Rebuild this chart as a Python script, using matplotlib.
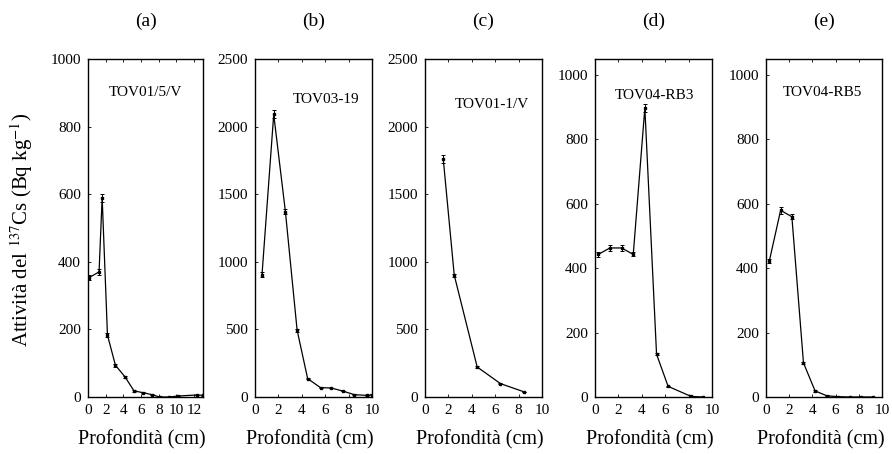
import matplotlib
matplotlib.use('Agg')
import matplotlib.pyplot as plt

plt.rcParams['font.family'] = ['Liberation Serif', 'DejaVu Serif']
plt.rcParams['mathtext.fontset'] = 'stix'

# (a) TOV01/5/V
x_a = [0.1, 1.25, 1.6, 2.2, 3.1, 4.2, 5.2, 6.2, 7.2, 8.1, 9.2, 10.2, 12.3, 13.0]
y_a = [353, 370, 590, 183, 94, 59, 18, 13, 7, 0, 0, 3, 6, 5]
e_a = [8, 8, 12, 6, 4, 3, 2, 2, 1, 1, 1, 1, 1, 1]

# (b) TOV03-19
x_b = [0.6, 1.6, 2.6, 3.6, 4.5, 5.6, 6.5, 7.5, 8.5, 9.6, 10.0]
y_b = [906, 2090, 1370, 494, 136, 69, 67, 44, 17, 12, 17]
e_b = [15, 30, 20, 10, 5, 3, 3, 2, 2, 2, 2]

# (c) TOV01-1/V
x_c = [1.56, 2.5, 4.46, 6.45, 8.5]
y_c = [1760, 901, 222, 99, 37]
e_c = [30, 12, 5, 3, 2]

# (d) TOV04-RB3
x_d = [0.28, 1.28, 2.27, 3.27, 4.26, 5.26, 6.25, 8.2, 9.2]
y_d = [443, 463, 463, 443, 898, 133, 33, 2, 0]
e_d = [8, 8, 8, 6, 12, 4, 2, 1, 1]

# (e) TOV04-RB5
x_e = [0.29, 1.26, 2.23, 3.23, 4.23, 5.23, 6.2, 7.2, 8.2, 9.2]
y_e = [423, 580, 560, 106, 19, 4, 1, 0, 0, 0]
e_e = [6, 10, 8, 4, 2, 1, 1, 1, 1, 1]

panels = [
    ('(a)', 'TOV01/5/V', x_a, y_a, e_a, 13, range(0, 13, 2), 1000, range(0, 1001, 200), (0.50, 0.90)),
    ('(b)', 'TOV03-19', x_b, y_b, e_b, 10, range(0, 11, 2), 2500, range(0, 2501, 500), (0.61, 0.88)),
    ('(c)', 'TOV01-1/V', x_c, y_c, e_c, 10, range(0, 11, 2), 2500, range(0, 2501, 500), (0.57, 0.865)),
    ('(d)', 'TOV04-RB3', x_d, y_d, e_d, 10, range(0, 11, 2), 1050, range(0, 1001, 200), (0.51, 0.893)),
    ('(e)', 'TOV04-RB5', x_e, y_e, e_e, 10, range(0, 11, 2), 1050, range(0, 1001, 200), (0.49, 0.90)),
]

lefts = [88, 255, 425, 595, 766]
widths = [115, 117, 117, 117, 116]

fig = plt.figure(figsize=(8.92, 4.54), dpi=100)
W, H = 892, 454
top_px, bot_px = 59, 397

for (letter, name, xs, ys, es, xmax, xt, ymax, yt, tpos), l, w in zip(panels, lefts, widths):
    ax = fig.add_axes([l / W, 1 - bot_px / H, w / W, (bot_px - top_px) / H])
    ax.errorbar(xs, ys, yerr=es, fmt='-', color='black', lw=0.9,
                marker='s', ms=1.5, elinewidth=0.7, capsize=1.5, capthick=0.7)
    ax.set_xlim(0, xmax)
    ax.set_ylim(0, ymax)
    ax.set_xticks(list(xt))
    ax.set_yticks(list(yt))
    ax.tick_params(direction='in', length=2, width=0.6, labelsize=11, pad=5, top=True)
    for s in ax.spines.values():
        s.set_linewidth(1.0)
    ax.text(tpos[0], tpos[1], name, transform=ax.transAxes, ha='center', va='center', fontsize=11)
    ax.text(0.5, 1.11, letter, transform=ax.transAxes, ha='center', va='center', fontsize=14)
    ax.text(0.47, -0.127, 'Profondità (cm)', transform=ax.transAxes, ha='center', va='center', fontsize=14.5)

fig.text(22 / W, 1 - 230 / H, 'Attività del $^{137}$Cs (Bq kg$^{-1}$)',
         rotation=90, ha='center', va='center', fontsize=15)

fig.savefig('out.png', dpi=100)
